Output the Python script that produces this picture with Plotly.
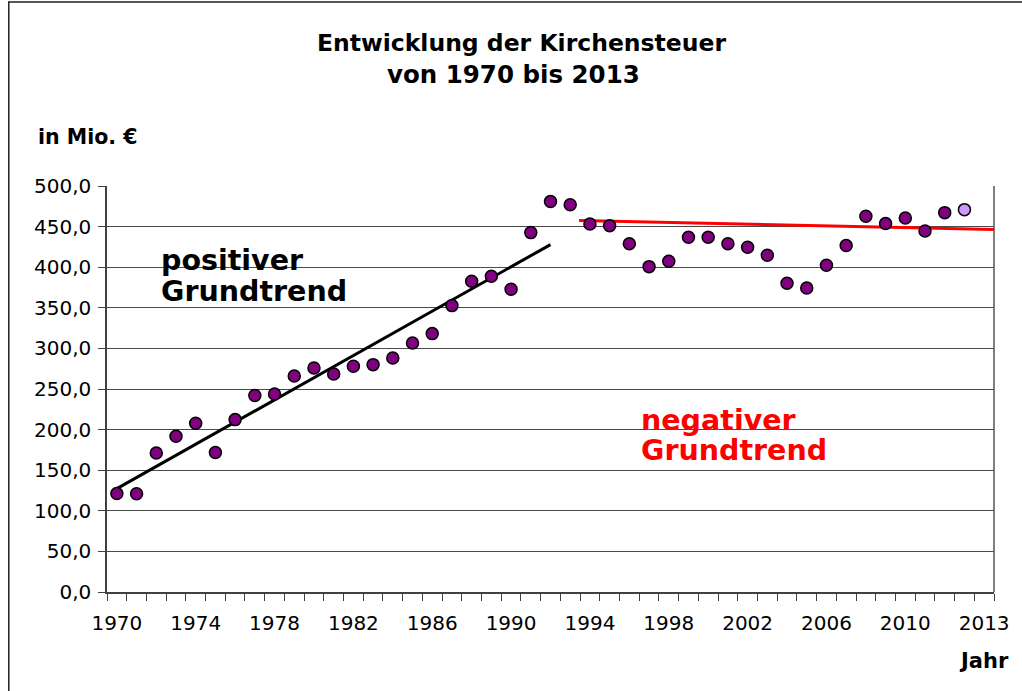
import numpy as np
import plotly.graph_objects as go

# ---- data ----
years = list(range(1970, 2014))
kirchensteuer = [121.2, 121.0, 171.2, 191.7, 207.8, 171.7, 212.3, 241.9, 243.8, 266.0,
                 275.9, 268.5, 278.0, 280.0, 288.2, 306.7, 318.2, 352.7, 382.6, 388.8,
                 372.8, 442.6, 480.8, 477.0, 453.2, 451.2, 429.0, 400.7, 407.3, 436.8,
                 437.0, 429.0, 424.5, 414.7, 380.2, 374.4, 402.3, 426.6, 462.7, 453.7,
                 460.6, 444.6, 467.2, 470.9]
pos_trend_start, pos_trend_end = 1970, 1992
neg_trend_years = [1993.45, 2014.6]
neg_trend_values = [457.6, 446.3]
tick_positions = [1970, 1974, 1978, 1982, 1986, 1990, 1994, 1998, 2002, 2006, 2010, 2014]
tick_labels = ["1970", "1974", "1978", "1982", "1986", "1990", "1994", "1998",
               "2002", "2006", "2010", "2013"]

# ---- layout geometry (pixels) ----
W, H = 1022, 691
L, R, T, B = 107, 1001, 186, 592


def px(x):
    return (x - L) / (R - L)


def py(y):
    return (B - y) / (B - T)


FONT = "DejaVu Sans"

# positive trend: least squares fit over 1970-1992
sel = [i for i, y in enumerate(years) if pos_trend_start <= y <= pos_trend_end]
xs = np.array([years[i] for i in sel], dtype=float)
ys = np.array([kirchensteuer[i] for i in sel], dtype=float)
k, d = np.polyfit(xs, ys, 1)
pos_x = [pos_trend_start, pos_trend_end]
pos_y = [k * pos_trend_start + d, k * pos_trend_end + d]

fig = go.Figure()

fig.add_trace(go.Scatter(x=pos_x, y=pos_y, mode="lines",
                         line=dict(color="black", width=3), hoverinfo="skip"))
fig.add_trace(go.Scatter(x=neg_trend_years, y=neg_trend_values, mode="lines",
                         line=dict(color="#FF0000", width=3), hoverinfo="skip"))

colors = ["#800080"] * (len(years) - 1) + ["#CC99FF"]
fig.add_trace(go.Scatter(x=years, y=kirchensteuer, mode="markers",
                         marker=dict(size=12, color=colors,
                                     line=dict(color="black", width=1.5))))

annotations = [
    dict(text="<b>Entwicklung der Kirchensteuer</b>", x=px(525), y=py(43),
         xanchor="center", yanchor="middle", font=dict(size=23.5, color="black", family=FONT)),
    dict(text="<b>von 1970 bis 2013</b>", x=px(517), y=py(75),
         xanchor="center", yanchor="middle", font=dict(size=24.5, color="black", family=FONT)),
    dict(text="<b>in Mio. €</b>", x=px(35), y=py(137),
         xanchor="left", yanchor="middle", font=dict(size=20.5, color="black", family=FONT)),
    dict(text="<b>Jahr</b>", x=px(1018), y=py(661),
         xanchor="right", yanchor="middle", font=dict(size=21, color="black", family=FONT)),
    dict(text="<b>positiver</b>", x=px(159), y=py(260),
         xanchor="left", yanchor="middle", font=dict(size=28.5, color="black", family=FONT)),
    dict(text="<b>Grundtrend</b>", x=px(159), y=py(291),
         xanchor="left", yanchor="middle", font=dict(size=28.5, color="black", family=FONT)),
    dict(text="<b>negativer</b>", x=px(643), y=py(420),
         xanchor="left", yanchor="middle", font=dict(size=28.5, color="#FF0000", family=FONT)),
    dict(text="<b>Grundtrend</b>", x=px(643), y=py(451),
         xanchor="left", yanchor="middle", font=dict(size=28.5, color="#FF0000", family=FONT)),
]
for a in annotations:
    a.update(xref="paper", yref="paper", showarrow=False)

shapes = [
    # outer chart frame (left and top edges visible)
    dict(type="rect", xref="paper", yref="paper",
         x0=px(8), x1=px(1040), y0=py(2), y1=py(710),
         line=dict(color="#222222", width=1.5), fillcolor="rgba(0,0,0,0)", layer="above"),
    # right border of plot area
    dict(type="line", xref="paper", yref="paper", x0=1, x1=1, y0=0, y1=1,
         line=dict(color="#808080", width=2), layer="below"),
]

fig.update_layout(
    width=W, height=H,
    margin=dict(l=L, r=W - R, t=T, b=H - B, pad=0),
    paper_bgcolor="white", plot_bgcolor="white",
    showlegend=False,
    separators=",.",
    font=dict(family=FONT, size=20, color="black"),
    annotations=annotations,
    shapes=shapes,
)

fig.update_xaxes(
    range=[1969.5, 2014.5],
    tickmode="array", tickvals=tick_positions, ticktext=tick_labels,
    ticks="", showgrid=False, zeroline=False,
    showline=True, linecolor="#404040", linewidth=2,
    tickfont=dict(size=20, family=FONT, color="black"),
    ticklabelstandoff=12,
    minor=dict(tickmode="linear", tick0=1969.5, dtick=1, ticks="outside",
               ticklen=7, tickcolor="#404040", tickwidth=1, showgrid=False),
)

fig.update_yaxes(
    range=[0, 500], tickmode="linear", tick0=0, dtick=50, tickformat=".1f",
    ticks="outside", ticklen=7, tickcolor="#404040", tickwidth=1,
    showgrid=True, gridcolor="#4a4a4a", gridwidth=1,
    zeroline=False,
    showline=True, linecolor="#404040", linewidth=1.5,
    tickfont=dict(size=20, family=FONT, color="black"),
    ticklabelstandoff=3,
)

fig.write_html("out.html", config={"displayModeBar": False},
               post_script="document.body.style.margin='0';")
